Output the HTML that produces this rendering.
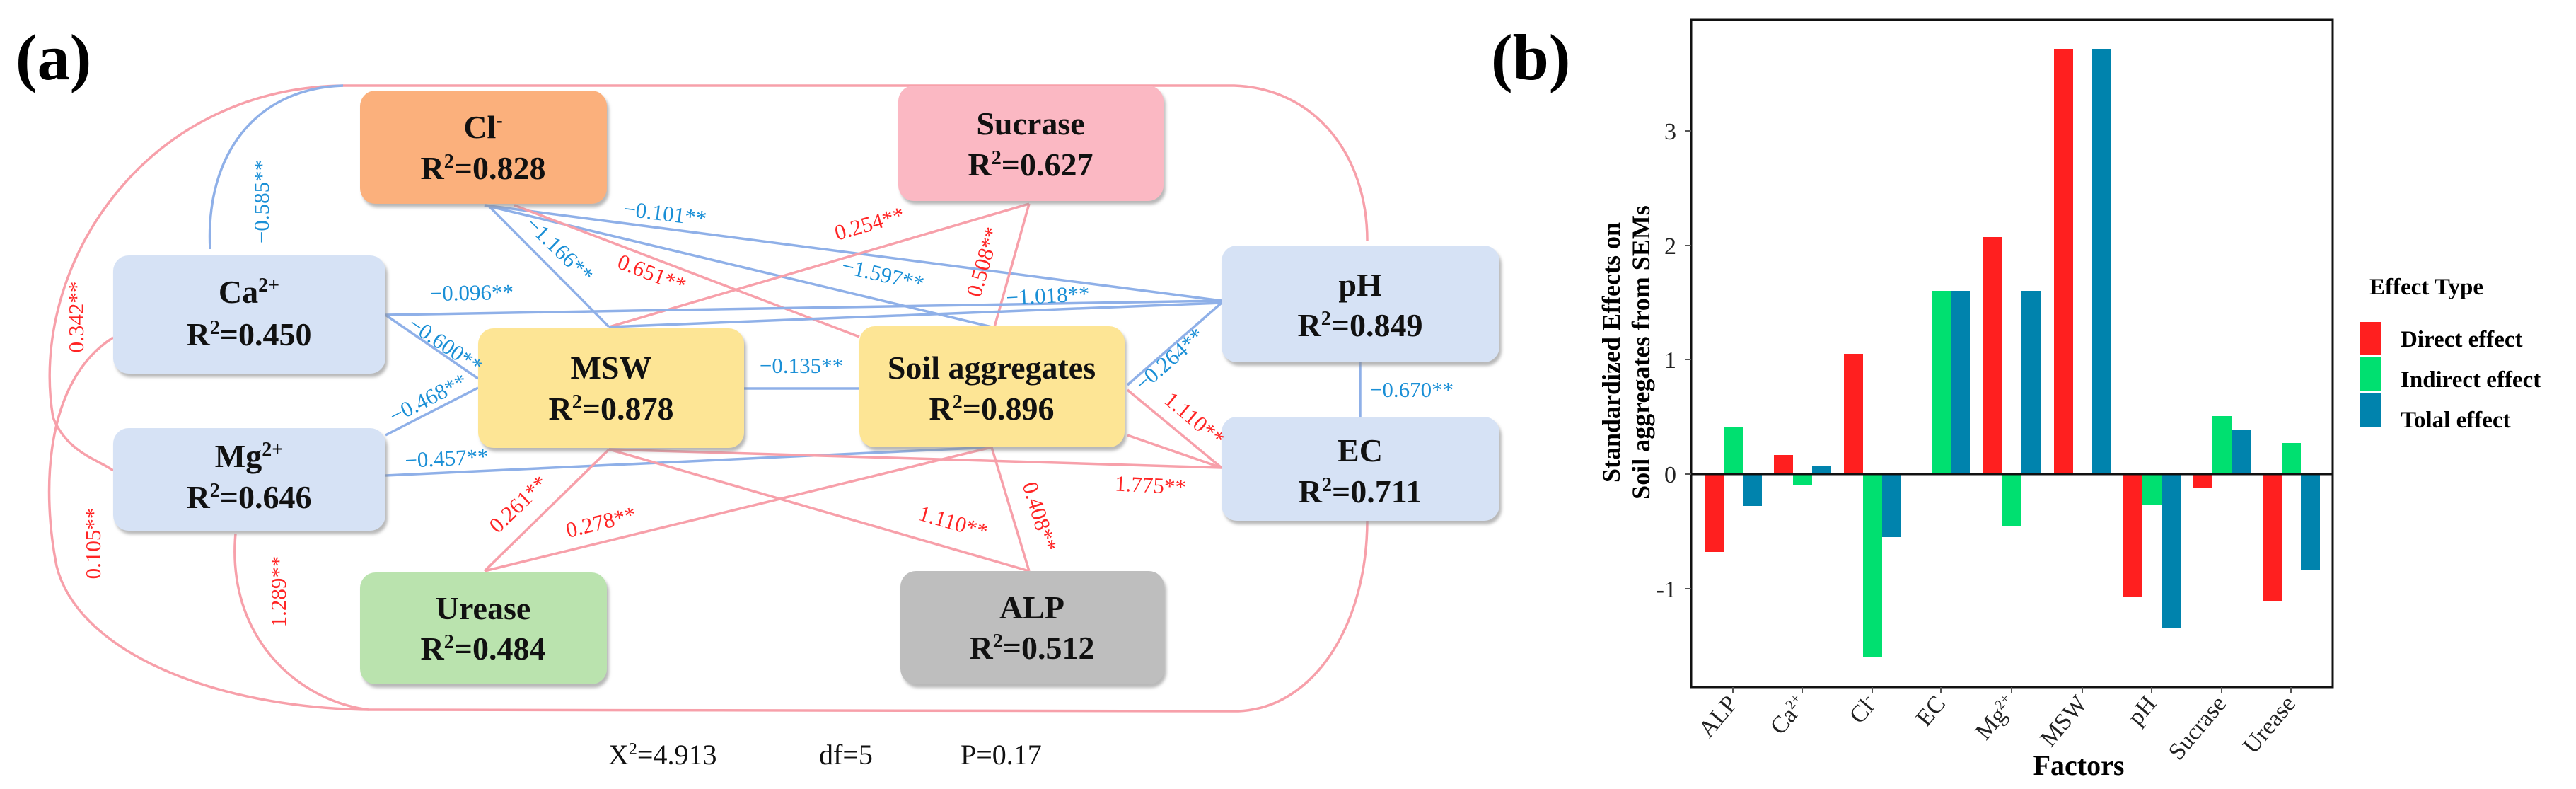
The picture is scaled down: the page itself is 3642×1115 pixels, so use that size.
<!DOCTYPE html>
<html><head><meta charset="utf-8"><style>
html,body{margin:0;padding:0;background:#fff;}
svg{display:block;}
.bt{font-family:"Liberation Serif",serif;font-weight:bold;font-size:46px;text-anchor:middle;fill:#111;}
.lb{font-family:"Liberation Serif",serif;font-size:31px;text-anchor:middle;fill:#1a8fd6;}
.lr{font-family:"Liberation Serif",serif;font-size:31px;text-anchor:middle;fill:#ff2424;}
.bl{stroke:#8fb0e8;stroke-width:3.5;fill:none;}
.pk{stroke:#f7a0aa;stroke-width:3.5;fill:none;}
.ax{font-family:"Liberation Serif",serif;font-size:34px;fill:#222;}
</style></head><body>
<svg width="3642" height="1115" viewBox="0 0 3642 1115" xmlns="http://www.w3.org/2000/svg">
<defs><filter id="sh" x="-10%" y="-10%" width="120%" height="130%"><feDropShadow dx="3" dy="5" stdDeviation="2" flood-color="#888" flood-opacity="0.6"/></filter></defs>
<text x="22" y="112" font-family="Liberation Serif,serif" font-weight="bold" font-size="92">(a)</text>
<text x="2108" y="112" font-family="Liberation Serif,serif" font-weight="bold" font-size="92">(b)</text>

<path class="pk" d="M485,121 L1745,121 C1860,125 1933,220 1933,340 M1933,735 C1933,880 1860,1000 1751,1005 L521,1003"/>
<path class="pk" d="M485,121 C200,125 40,380 75,590 C95,640 140,650 160,665"/>
<path class="pk" d="M160,477 C60,540 60,700 80,800 C110,920 300,1000 521,1003"/>
<path class="pk" d="M333,754 C320,900 420,990 521,1003"/>
<path class="bl" d="M297,352 C290,220 360,125 485,121"/>

<line class="bl" x1="685" y1="290" x2="1727" y2="425"/>
<line class="bl" x1="685" y1="290" x2="1402" y2="462"/>
<line class="bl" x1="690" y1="290" x2="861" y2="462"/>
<line class="pk" x1="727" y1="290" x2="1215" y2="476"/>
<line class="pk" x1="1455" y1="288" x2="861" y2="462"/>
<line class="pk" x1="1455" y1="288" x2="1406" y2="462"/>
<line class="bl" x1="545" y1="445" x2="1727" y2="425"/>
<line class="bl" x1="861" y1="462" x2="1727" y2="428"/>
<line class="bl" x1="545" y1="445" x2="676" y2="535"/>
<line class="bl" x1="545" y1="615" x2="676" y2="548"/>
<line class="bl" x1="545" y1="672" x2="1402" y2="632"/>
<line class="bl" x1="1052" y1="549" x2="1215" y2="549"/>
<line class="bl" x1="1594" y1="544" x2="1727" y2="428"/>
<line class="pk" x1="1594" y1="551" x2="1727" y2="661"/>
<line class="pk" x1="1594" y1="615" x2="1727" y2="661"/>
<line class="pk" x1="861" y1="635" x2="1727" y2="661"/>
<line class="pk" x1="861" y1="635" x2="685" y2="807"/>
<line class="pk" x1="1402" y1="632" x2="685" y2="807"/>
<line class="pk" x1="861" y1="635" x2="1455" y2="807"/>
<line class="pk" x1="1402" y1="632" x2="1455" y2="807"/>
<line class="bl" x1="1923" y1="512" x2="1923" y2="589"/>

<g filter="url(#sh)">
<rect x="509" y="128" width="349" height="160" rx="22" fill="#fbb07c"/>
<rect x="1270" y="121" width="375" height="163" rx="22" fill="#fbb8c3"/>
<rect x="160" y="361" width="385" height="167" rx="22" fill="#d6e2f5"/>
<rect x="160" y="605" width="385" height="145" rx="22" fill="#d6e2f5"/>
<rect x="676" y="464" width="376" height="169" rx="22" fill="#fde595"/>
<rect x="1215" y="461" width="375" height="171" rx="22" fill="#fde595"/>
<rect x="509" y="809" width="349" height="158" rx="22" fill="#bae3ae"/>
<rect x="1273" y="807" width="373" height="160" rx="22" fill="#bebebe"/>
<rect x="1727" y="347" width="393" height="165" rx="22" fill="#d6e2f5"/>
<rect x="1727" y="589" width="393" height="147" rx="22" fill="#d6e2f5"/>
</g>
<text class="bt" x="683" y="195">Cl<tspan dy="-16" font-size="28">-</tspan></text><text class="bt" x="683" y="253">R<tspan dy="-16" font-size="28">2</tspan><tspan dy="16">=0.828</tspan></text>
<text class="bt" x="1457" y="190">Sucrase</text><text class="bt" x="1457" y="248">R<tspan dy="-16" font-size="28">2</tspan><tspan dy="16">=0.627</tspan></text>
<text class="bt" x="352" y="428">Ca<tspan dy="-16" font-size="28">2+</tspan></text><text class="bt" x="352" y="488">R<tspan dy="-16" font-size="28">2</tspan><tspan dy="16">=0.450</tspan></text>
<text class="bt" x="352" y="660">Mg<tspan dy="-16" font-size="28">2+</tspan></text><text class="bt" x="352" y="718">R<tspan dy="-16" font-size="28">2</tspan><tspan dy="16">=0.646</tspan></text>
<text class="bt" x="864" y="535">MSW</text><text class="bt" x="864" y="593">R<tspan dy="-16" font-size="28">2</tspan><tspan dy="16">=0.878</tspan></text>
<text class="bt" x="1402" y="535">Soil aggregates</text><text class="bt" x="1402" y="593">R<tspan dy="-16" font-size="28">2</tspan><tspan dy="16">=0.896</tspan></text>
<text class="bt" x="683" y="875">Urease</text><text class="bt" x="683" y="932">R<tspan dy="-16" font-size="28">2</tspan><tspan dy="16">=0.484</tspan></text>
<text class="bt" x="1459" y="874">ALP</text><text class="bt" x="1459" y="931">R<tspan dy="-16" font-size="28">2</tspan><tspan dy="16">=0.512</tspan></text>
<text class="bt" x="1923" y="418">pH</text><text class="bt" x="1923" y="475">R<tspan dy="-16" font-size="28">2</tspan><tspan dy="16">=0.849</tspan></text>
<text class="bt" x="1923" y="652">EC</text><text class="bt" x="1923" y="710">R<tspan dy="-16" font-size="28">2</tspan><tspan dy="16">=0.711</tspan></text>

<text class="lb" transform="translate(380,285) rotate(-90)">−0.585**</text>
<text class="lr" transform="translate(118,448) rotate(-90)">0.342**</text>
<text class="lr" transform="translate(142,768) rotate(-90)">0.105**</text>
<text class="lr" transform="translate(404,836) rotate(-90)">1.289**</text>
<text class="lb" transform="translate(939,312) rotate(7)">−0.101**</text>
<text class="lb" transform="translate(1246,398) rotate(13)">−1.597**</text>
<text class="lb" transform="translate(784,360) rotate(44)">−1.166**</text>
<text class="lr" transform="translate(918,396) rotate(21)">0.651**</text>
<text class="lr" transform="translate(1232,326) rotate(-16)">0.254**</text>
<text class="lr" transform="translate(1400,373) rotate(-74)">0.508**</text>
<text class="lb" transform="translate(1482,428) rotate(-3)">−1.018**</text>
<text class="lb" transform="translate(667,424) rotate(-1)">−0.096**</text>
<text class="lb" transform="translate(624,496) rotate(34)">−0.600**</text>
<text class="lb" transform="translate(610,572) rotate(-27)">−0.468**</text>
<text class="lb" transform="translate(632,658) rotate(-3)">−0.457**</text>
<text class="lb" x="1133" y="527">−0.135**</text>
<text class="lb" transform="translate(1660,516) rotate(-41)">−0.264**</text>
<text class="lr" transform="translate(1682,600) rotate(40)">1.110**</text>
<text class="lr" transform="translate(1626,696) rotate(3)">1.775**</text>
<text class="lr" transform="translate(740,720) rotate(-44)">0.261**</text>
<text class="lr" transform="translate(852,748) rotate(-14)">0.278**</text>
<text class="lr" transform="translate(1345,748) rotate(16)">1.110**</text>
<text class="lr" transform="translate(1460,733) rotate(73)">0.408**</text>
<text class="lb" x="1996" y="561">−0.670**</text>

<g font-family="Liberation Serif,serif" font-size="40" fill="#111">
<text x="860" y="1080">X<tspan dy="-14" font-size="24">2</tspan><tspan dy="14">=4.913</tspan></text>
<text x="1158" y="1080">df=5</text>
<text x="1358" y="1080">P=0.17</text>
</g>

<g>
<g>
<rect x="2410" y="670" width="27" height="110" fill="#ff1f1f"/>
<rect x="2437" y="604" width="27" height="66" fill="#00e070"/>
<rect x="2464" y="670" width="27" height="45" fill="#0083ad"/>
<rect x="2508" y="643" width="27" height="27" fill="#ff1f1f"/>
<rect x="2535" y="670" width="27" height="16" fill="#00e070"/>
<rect x="2562" y="659" width="27" height="11" fill="#0083ad"/>
<rect x="2607" y="500" width="27" height="170" fill="#ff1f1f"/>
<rect x="2634" y="670" width="27" height="259" fill="#00e070"/>
<rect x="2661" y="670" width="27" height="89" fill="#0083ad"/>
<rect x="2731" y="411" width="27" height="259" fill="#00e070"/>
<rect x="2758" y="411" width="27" height="259" fill="#0083ad"/>
<rect x="2804" y="335" width="27" height="335" fill="#ff1f1f"/>
<rect x="2831" y="670" width="27" height="74" fill="#00e070"/>
<rect x="2858" y="411" width="27" height="259" fill="#0083ad"/>
<rect x="2904" y="69" width="27" height="601" fill="#ff1f1f"/>
<rect x="2958" y="69" width="27" height="601" fill="#0083ad"/>
<rect x="3002" y="670" width="27" height="173" fill="#ff1f1f"/>
<rect x="3029" y="670" width="27" height="43" fill="#00e070"/>
<rect x="3056" y="670" width="27" height="217" fill="#0083ad"/>
<rect x="3101" y="670" width="27" height="19" fill="#ff1f1f"/>
<rect x="3128" y="588" width="27" height="82" fill="#00e070"/>
<rect x="3155" y="607" width="27" height="63" fill="#0083ad"/>
<rect x="3199" y="670" width="27" height="179" fill="#ff1f1f"/>
<rect x="3226" y="626" width="27" height="44" fill="#00e070"/>
<rect x="3253" y="670" width="27" height="135" fill="#0083ad"/>
</g>
<line x1="2391" y1="670" x2="3298" y2="670" stroke="#111" stroke-width="3"/>
<rect x="2391" y="28" width="907" height="943" fill="none" stroke="#111" stroke-width="3"/>
<g class="ax" text-anchor="end">
<text x="2370" y="197">3</text><text x="2370" y="359">2</text><text x="2370" y="520">1</text><text x="2370" y="682">0</text><text x="2370" y="844">-1</text>
</g>
<g stroke="#555" stroke-width="2">
<line x1="2382" y1="185" x2="2391" y2="185"/><line x1="2382" y1="347" x2="2391" y2="347"/><line x1="2382" y1="508" x2="2391" y2="508"/><line x1="2382" y1="670" x2="2391" y2="670"/><line x1="2382" y1="832" x2="2391" y2="832"/>
<line x1="2450" y1="971" x2="2450" y2="980"/><line x1="2548" y1="971" x2="2548" y2="980"/><line x1="2647" y1="971" x2="2647" y2="980"/><line x1="2744" y1="971" x2="2744" y2="980"/><line x1="2844" y1="971" x2="2844" y2="980"/><line x1="2944" y1="971" x2="2944" y2="980"/><line x1="3042" y1="971" x2="3042" y2="980"/><line x1="3141" y1="971" x2="3141" y2="980"/><line x1="3239" y1="971" x2="3239" y2="980"/>
</g>
<g class="ax" text-anchor="end" font-size="32">
<text transform="translate(2458,995) rotate(-50)">ALP</text>
<text transform="translate(2556,995) rotate(-50)">Ca<tspan dy="-12" font-size="20">2+</tspan></text>
<text transform="translate(2655,995) rotate(-50)">Cl<tspan dy="-12" font-size="20">-</tspan></text>
<text transform="translate(2752,995) rotate(-50)">EC</text>
<text transform="translate(2852,995) rotate(-50)">Mg<tspan dy="-12" font-size="20">2+</tspan></text>
<text transform="translate(2952,995) rotate(-50)">MSW</text>
<text transform="translate(3050,995) rotate(-50)">pH</text>
<text transform="translate(3149,995) rotate(-50)">Sucrase</text>
<text transform="translate(3247,995) rotate(-50)">Urease</text>
</g>
<text x="2939" y="1095" font-family="Liberation Serif,serif" font-weight="bold" font-size="40" text-anchor="middle">Factors</text>
<g font-family="Liberation Serif,serif" font-weight="bold" font-size="36" text-anchor="middle">
<text transform="translate(2290,498) rotate(-90)">Standardized Effects on</text>
<text transform="translate(2332,498) rotate(-90)">Soil aggregates from SEMs</text>
</g>
<g font-family="Liberation Serif,serif" font-weight="bold" font-size="33">
<text x="3350" y="416">Effect Type</text>
<rect x="3337" y="455" width="30" height="47" fill="#ff1f1f"/>
<rect x="3337" y="505" width="30" height="48" fill="#00e070"/>
<rect x="3337" y="556" width="30" height="47" fill="#0083ad"/>
<text x="3394" y="490">Direct effect</text>
<text x="3394" y="547">Indirect effect</text>
<text x="3394" y="604">Tolal effect</text>
</g>
</g>
</svg>
</body></html>
